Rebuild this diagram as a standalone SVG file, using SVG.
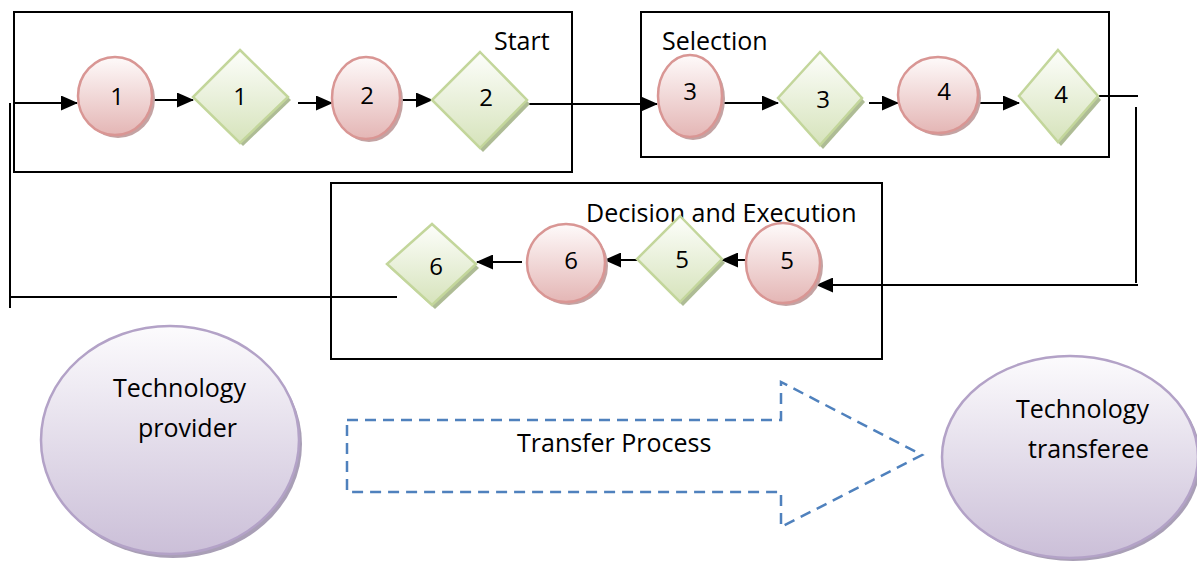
<svg xmlns="http://www.w3.org/2000/svg" width="1197" height="561" viewBox="0 0 1197 561">
  <style>
    .frame { fill: none; stroke: #000; stroke-width: 2; }
    .conn { fill: none; stroke: #000; stroke-width: 2; }
    .lbl { font-family: "Open Sans", "Liberation Sans", sans-serif; font-size: 25px; fill: #000; }
    .num { font-family: "Open Sans", "Liberation Sans", sans-serif; font-size: 24px; fill: #000; text-anchor: middle; }
    .circ { fill: url(#gPink); stroke: #d99694; stroke-width: 2.5; }
    .circ-sh { fill: #c4a3a3; }
    .dia { fill: url(#gGreen); stroke: #c3d69b; stroke-width: 2.5; }
    .dia-sh { fill: #aebc95; }
    .party { fill: url(#gPurple); stroke: #b3a2c7; stroke-width: 2.5; }
    .party-sh { fill: #a99fb6; }
    .flow { fill: none; stroke: #4f81bd; stroke-width: 2.5; stroke-dasharray: 11 7; }
  </style>
  <defs>
    <linearGradient id="gPink" x1="0" y1="0" x2="0" y2="1">
      <stop offset="0" stop-color="#fefafa"/>
      <stop offset="1" stop-color="#e4b6b5"/>
    </linearGradient>
    <linearGradient id="gGreen" x1="0" y1="0" x2="0" y2="1">
      <stop offset="0" stop-color="#fdfefb"/>
      <stop offset="1" stop-color="#d6e3bb"/>
    </linearGradient>
    <linearGradient id="gPurple" x1="0" y1="0" x2="0" y2="1">
      <stop offset="0" stop-color="#fcfbfd"/>
      <stop offset="1" stop-color="#cbbfd8"/>
    </linearGradient>
    <marker id="arr" markerUnits="userSpaceOnUse" markerWidth="17" markerHeight="15" refX="16" refY="7.5" orient="auto">
      <path d="M0,0 L17,7.5 L0,15 Z" fill="#000"/>
    </marker>
  </defs>

  <!-- stage frames -->
  <g id="stage-start">
    <rect class="frame" x="14" y="12" width="558" height="160"/>
    <text class="lbl" x="494" y="50">Start</text>
  </g>
  <g id="stage-selection">
    <rect class="frame" x="641" y="12" width="468" height="145"/>
    <text class="lbl" x="662" y="50">Selection</text>
  </g>
  <g id="stage-decision">
    <rect class="frame" x="331" y="183" width="551" height="176"/>
    <text class="lbl" x="586" y="222">Decision and Execution</text>
  </g>

  <!-- connectors -->
  <g id="connectors">
    <line class="conn" x1="14" y1="103" x2="77" y2="103" marker-end="url(#arr)"/>
    <line class="conn" x1="151" y1="100" x2="193" y2="100" marker-end="url(#arr)"/>
    <line class="conn" x1="298" y1="103" x2="332" y2="103" marker-end="url(#arr)"/>
    <line class="conn" x1="399" y1="100" x2="432" y2="100" marker-end="url(#arr)"/>
    <line class="conn" x1="527" y1="104" x2="657" y2="104" marker-end="url(#arr)"/>
    <line class="conn" x1="721" y1="103" x2="778" y2="103" marker-end="url(#arr)"/>
    <line class="conn" x1="869" y1="103" x2="898" y2="103" marker-end="url(#arr)"/>
    <line class="conn" x1="977" y1="103" x2="1019" y2="103" marker-end="url(#arr)"/>
    <line class="conn" x1="1098" y1="96" x2="1138" y2="96"/>
    <line class="conn" x1="1136" y1="107" x2="1136" y2="283"/>
    <line class="conn" x1="1138" y1="285" x2="817" y2="285" marker-end="url(#arr)"/>
    <line class="conn" x1="754" y1="260" x2="722" y2="260" marker-end="url(#arr)"/>
    <line class="conn" x1="637" y1="260" x2="605" y2="260" marker-end="url(#arr)"/>
    <line class="conn" x1="522" y1="262" x2="477" y2="262" marker-end="url(#arr)"/>
    <line class="conn" x1="397" y1="297" x2="10" y2="297"/>
    <line class="conn" x1="10" y1="103" x2="10" y2="308"/>
  </g>

  <!-- start stage nodes -->
  <g id="c1">
    <ellipse class="circ-sh" cx="118" cy="99" rx="37" ry="39"/>
    <ellipse class="circ" cx="115" cy="96" rx="37" ry="39"/>
    <text class="num" x="117" y="105">1</text>
  </g>
  <g id="d1">
    <polygon class="dia-sh" points="243,54 291,100 243,146 196,100"/>
    <polygon class="dia" points="240,50 288,97 240,143 193,97"/>
    <text class="num" x="240" y="105">1</text>
  </g>
  <g id="c2">
    <ellipse class="circ-sh" cx="369" cy="101" rx="34" ry="41"/>
    <ellipse class="circ" cx="366" cy="98" rx="34" ry="41"/>
    <text class="num" x="367" y="104">2</text>
  </g>
  <g id="d2">
    <polygon class="dia-sh" points="483,56 530,104 483,152 435,104"/>
    <polygon class="dia" points="480,52 527,100 480,148 432,100"/>
    <text class="num" x="486" y="106">2</text>
  </g>

  <!-- selection stage nodes -->
  <g id="c3">
    <ellipse class="circ-sh" cx="693" cy="99" rx="32" ry="41"/>
    <ellipse class="circ" cx="690" cy="96" rx="32" ry="41"/>
    <text class="num" x="690" y="100">3</text>
  </g>
  <g id="d3">
    <polygon class="dia-sh" points="823,56 865,102 823,149 781,102"/>
    <polygon class="dia" points="820,52 862,98 820,145 778,98"/>
    <text class="num" x="823" y="108">3</text>
  </g>
  <g id="c4">
    <ellipse class="circ-sh" cx="941" cy="98" rx="40" ry="38"/>
    <ellipse class="circ" cx="938" cy="95" rx="40" ry="38"/>
    <text class="num" x="944" y="100">4</text>
  </g>
  <g id="d4">
    <polygon class="dia-sh" points="1061,54 1101,100 1061,146 1022,100"/>
    <polygon class="dia" points="1058,50 1098,96 1058,142 1019,96"/>
    <text class="num" x="1061" y="103">4</text>
  </g>

  <!-- decision and execution stage nodes -->
  <g id="c5">
    <ellipse class="circ-sh" cx="786" cy="266" rx="37" ry="40"/>
    <ellipse class="circ" cx="783" cy="263" rx="37" ry="40"/>
    <text class="num" x="787" y="269">5</text>
  </g>
  <g id="d5">
    <polygon class="dia-sh" points="683,220 725,263 683,306 640,263"/>
    <polygon class="dia" points="680,216 722,259 680,302 637,259"/>
    <text class="num" x="682" y="268">5</text>
  </g>
  <g id="c6">
    <ellipse class="circ-sh" cx="569" cy="266" rx="39" ry="39"/>
    <ellipse class="circ" cx="566" cy="263" rx="39" ry="39"/>
    <text class="num" x="571" y="269">6</text>
  </g>
  <g id="d6">
    <polygon class="dia-sh" points="435,228 479,268 435,309 390,268"/>
    <polygon class="dia" points="432,224 476,264 432,305 387,264"/>
    <text class="num" x="436" y="275">6</text>
  </g>

  <!-- parties and transfer arrow -->
  <g id="provider">
    <ellipse class="party-sh" cx="173" cy="444" rx="129" ry="114"/>
    <ellipse class="party" cx="170" cy="440" rx="129" ry="114"/>
    <text class="lbl" x="113" y="397">Technology</text>
    <text class="lbl" x="138" y="437">provider</text>
  </g>
  <g id="transfer">
    <polygon class="flow" points="347,420 781,420 781,382 922,455 781,527 781,492 347,492"/>
    <text class="lbl" x="517" y="452" font-size="22.5">Transfer Process</text>
  </g>
  <g id="transferee">
    <ellipse class="party-sh" cx="1073" cy="460" rx="128" ry="101"/>
    <ellipse class="party" cx="1070" cy="457" rx="128" ry="101"/>
    <text class="lbl" x="1016" y="418">Technology</text>
    <text class="lbl" x="1028" y="458">transferee</text>
  </g>
</svg>
